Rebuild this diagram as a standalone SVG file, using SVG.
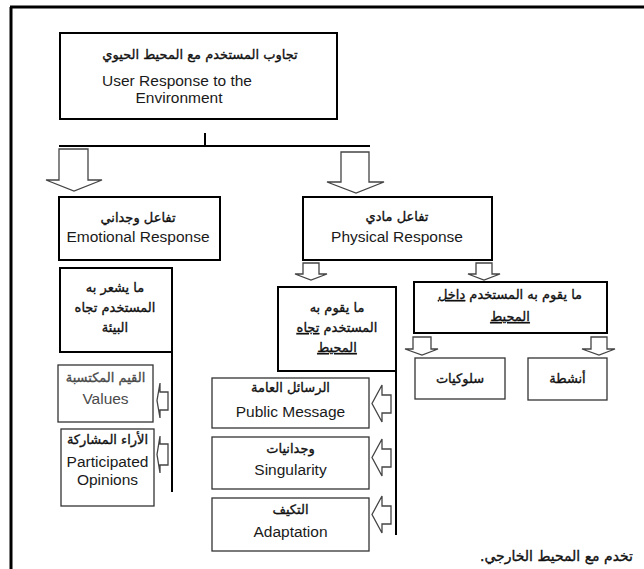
<svg xmlns="http://www.w3.org/2000/svg" width="644" height="569" viewBox="0 0 644 569">
  <style>
    .box { fill: #ffffff; stroke: #000000; stroke-width: 2; }
    .sub { fill: #ffffff; stroke: #333333; stroke-width: 1.3; }
    .line { stroke: #000000; stroke-width: 2; fill: none; }
    .arrow { fill: #ffffff; stroke: #444444; stroke-width: 1.3; stroke-linejoin: miter; }
    .ar { font-family: "DejaVu Sans", "Liberation Sans", sans-serif; font-size: 13px; fill: #111111; stroke: #111111; stroke-width: 0.35; text-anchor: middle; }
    .en { font-family: "Liberation Sans", Arial, sans-serif; font-size: 15.5px; fill: #1a1a1a; text-anchor: middle; }
    .gray { fill: #4a4a4a; stroke: #4a4a4a; }
    .en.gray { stroke: none; }
  </style>

  <!-- page frame -->
  <g id="frame">
    <line x1="11" y1="7" x2="11" y2="569" stroke="#000" stroke-width="3"/>
    <line x1="10" y1="7" x2="644" y2="7" stroke="#000" stroke-width="3"/>
  </g>

  <!-- connectors -->
  <g id="connectors">
    <line class="line" x1="205" y1="133" x2="205" y2="146" stroke-width="1.5"/>
    <line class="line" x1="59" y1="146" x2="370" y2="146"/>
    <!-- large block arrows -->
    <path class="arrow" d="M59,149 H88 V180 H102 L74,191 L46,180 H59 Z"/>
    <path class="arrow" d="M341,152 H369 V182 H384 L356,193 L327,182 H341 Z"/>
    <!-- small block arrows under the physical response -->
    <path class="arrow" d="M303,263 H319 V274 H327 L311,280 L295,274 H303 Z"/>
    <path class="arrow" d="M476,263 H492 V274 H500 L484,280 L468,274 H476 Z"/>
    <!-- small block arrows under the inside-environment box -->
    <path class="arrow" d="M413,337 H431 V349 H438 L422,355 L405,349 H413 Z"/>
    <path class="arrow" d="M591,337 H607 V349 H615 L599,355 L582,349 H591 Z"/>
    <!-- vertical spines -->
    <line class="line" x1="172" y1="352" x2="172" y2="492"/>
    <line class="line" x1="396" y1="371" x2="396" y2="535"/>
    <!-- left-pointing arrows on the emotional spine -->
    <path class="arrow" d="M168,392 H160 V383 L157,400.5 L160,418 V410 H168 Z"/>
    <path class="arrow" d="M168,444 H160 V436 L157,454.5 L160,473 V465 H168 Z"/>
    <!-- left-pointing arrows on the physical spine -->
    <path class="arrow" d="M391,395 H382 V385 L372,403.5 L382,422 V413 H391 Z"/>
    <path class="arrow" d="M391,449 H382 V439 L372,457.5 L382,476 V467 H391 Z"/>
    <path class="arrow" d="M391,506 H382 V496 L372,514.5 L382,533 V524 H391 Z"/>
  </g>

  <g id="root">
    <rect class="box" x="60" y="33" width="277" height="86"/>
    <text class="ar" x="200" y="59" font-size="15.5">تجاوب المستخدم مع المحيط الحيوي</text>
    <text class="en" x="177" y="86" font-size="17">User Response to the</text>
    <text class="en" x="179" y="103" font-size="17">Environment</text>
  </g>

  <g id="emotional">
    <rect class="box" x="59" y="197" width="161" height="63"/>
    <text class="ar" x="138" y="222" font-size="14">تفاعل وجداني</text>
    <text class="en" x="138" y="242">Emotional Response</text>
  </g>

  <g id="feels">
    <rect class="box" x="60" y="268" width="112" height="84"/>
    <text class="ar" x="115" y="292" font-size="14">ما يشعر به</text>
    <text class="ar" x="115" y="312" font-size="14">المستخدم تجاه</text>
    <text class="ar" x="115" y="332" font-size="14">البيئة</text>
  </g>

  <g id="values">
    <rect class="sub" x="58" y="365" width="95" height="57"/>
    <text class="ar gray" x="105.5" y="382">القيم المكتسبة</text>
    <text class="en gray" x="105.5" y="404" font-size="16">Values</text>
  </g>

  <g id="opinions">
    <rect class="sub" x="61" y="429" width="93" height="77"/>
    <text class="ar" x="107.5" y="444">الأراء المشاركة</text>
    <text class="en" x="107.5" y="467">Participated</text>
    <text class="en" x="107.5" y="485">Opinions</text>
  </g>

  <g id="physical">
    <rect class="box" x="303" y="197" width="189" height="63"/>
    <text class="ar" x="397" y="221" font-size="14">تفاعل مادي</text>
    <text class="en" x="397" y="242">Physical Response</text>
  </g>

  <g id="toward">
    <rect class="box" x="278" y="287" width="118" height="84"/>
    <text class="ar" x="337" y="312" font-size="14">ما يقوم به</text>
    <text class="ar" x="337" y="332" font-size="14" direction="rtl">المستخدم <tspan text-decoration="underline">تجاه</tspan></text>
    <text class="ar" x="337" y="352" font-size="14" text-decoration="underline">المحيط</text>
  </g>

  <g id="public-message">
    <rect class="sub" x="212" y="378" width="157" height="50"/>
    <text class="ar" x="290.5" y="392">الرسائل العامة</text>
    <text class="en" x="290.5" y="417" font-size="16">Public Message</text>
  </g>

  <g id="singularity">
    <rect class="sub" x="212" y="437" width="157" height="52"/>
    <text class="ar" x="290.5" y="453">وجدانيات</text>
    <text class="en" x="290.5" y="475">Singularity</text>
  </g>

  <g id="adaptation">
    <rect class="sub" x="212" y="498" width="157" height="53"/>
    <text class="ar" x="290.5" y="514">التكيف</text>
    <text class="en" x="290.5" y="537">Adaptation</text>
  </g>

  <g id="inside">
    <rect class="box" x="414" y="282" width="193" height="51"/>
    <text class="ar" x="510" y="299" font-size="14" direction="rtl">ما يقوم به المستخدم <tspan text-decoration="underline">داخل</tspan></text>
    <text class="ar" x="510" y="321" font-size="14" text-decoration="underline">المحيط</text>
  </g>

  <g id="behaviours">
    <rect class="sub" x="415" y="358" width="90" height="41"/>
    <text class="ar" x="460" y="383" font-size="14">سلوكيات</text>
  </g>

  <g id="activities">
    <rect class="sub" x="528" y="358" width="79" height="42"/>
    <text class="ar" x="567.5" y="383" font-size="14">أنشطة</text>
  </g>

  <!-- running body text at the foot of the page -->
  <text x="633" y="561" direction="rtl" font-family="DejaVu Sans, Liberation Sans, sans-serif" font-size="14" fill="#111" stroke="#111" stroke-width="0.35" text-anchor="start">تخدم مع المحيط الخارجي.</text>
</svg>
